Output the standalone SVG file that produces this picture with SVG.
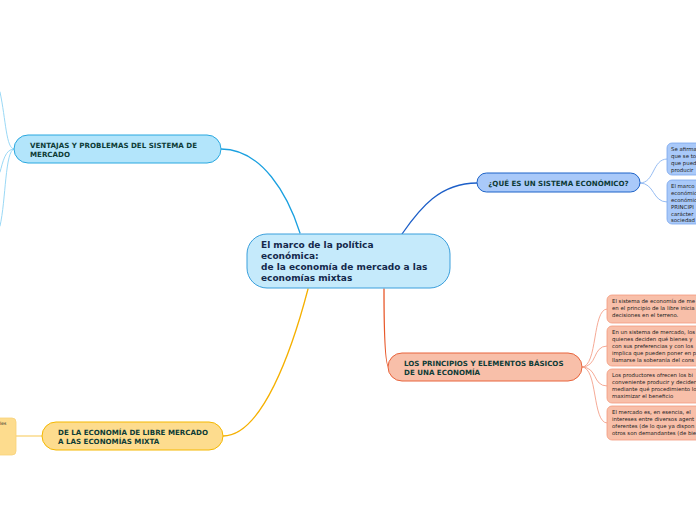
<svg xmlns="http://www.w3.org/2000/svg" width="696" height="520" viewBox="0 0 696 520">
<style>
text{font-family:"DejaVu Sans",Verdana,sans-serif;}
.main{font-size:9px;font-weight:bold;fill:#14284b;}
.lbl{font-size:7.1px;font-weight:bold;fill:#0d3b36;}
.sm{font-size:5.4px;fill:#222;}
.c{fill:none;stroke-linecap:round;}
</style>
<rect width="696" height="520" fill="#ffffff"/>
<g id="connectors">
  <path class="c" d="M300,233 C288,195 262,149 221,149" stroke="#1aa0e0" stroke-width="1.3"/>
  <path class="c" d="M14,149 C6,149 6,120 0,92" stroke="#8fd4f4" stroke-width="0.9"/>
  <path class="c" d="M14,149 C5,149 3,162 0,172" stroke="#8fd4f4" stroke-width="0.9"/>
  <path class="c" d="M14,149 C5,150 6,200 0,226" stroke="#8fd4f4" stroke-width="0.9"/>
  <path class="c" d="M402,234 C420,208 440,183 477,183" stroke="#1d5fc8" stroke-width="1.3"/>
  <path class="c" d="M640,183 C655,183 652,159 667,159" stroke="#8ab4f0" stroke-width="0.9"/>
  <path class="c" d="M640,183 C655,183 652,202 667,202" stroke="#8ab4f0" stroke-width="0.9"/>
  <path class="c" d="M384,289 C384,330 385,367 389,367" stroke="#e8582a" stroke-width="1.3"/>
  <path class="c" d="M582,367 C598,367 592,309 607,309" stroke="#f4a08a" stroke-width="0.9"/>
  <path class="c" d="M582,367 C598,367 592,346 607,346" stroke="#f4a08a" stroke-width="0.9"/>
  <path class="c" d="M582,367 C598,367 592,386 607,386" stroke="#f4a08a" stroke-width="0.9"/>
  <path class="c" d="M582,367 C598,367 592,423 607,423" stroke="#f4a08a" stroke-width="0.9"/>
  <path class="c" d="M308,289 C292,350 262,436 223,436" stroke="#f5b000" stroke-width="1.3"/>
  <path class="c" d="M42,436 L16,436" stroke="#fbe3a8" stroke-width="2"/>
</g>
<g id="central">
  <rect x="247" y="234" width="203" height="54" rx="20" fill="#c5eafb" stroke="#3a9fdc" stroke-width="1"/>
  <text class="main" x="261" y="248">El marco de la política</text>
  <text class="main" x="261" y="259">económica:</text>
  <text class="main" x="261" y="270">de la economía de mercado a las</text>
  <text class="main" x="261" y="281">economías mixtas</text>
</g>
<g id="ventajas">
  <rect x="14" y="135" width="207" height="28" rx="14" fill="#b3e5fb" stroke="#29a8e0" stroke-width="1"/>
  <text class="lbl" x="30" y="148">VENTAJAS Y PROBLEMAS DEL SISTEMA DE</text>
  <text class="lbl" x="30" y="157">MERCADO</text>
</g>
<g id="que-es">
  <rect x="477" y="173" width="163" height="19" rx="9.5" fill="#a9c9f9" stroke="#1d63c8" stroke-width="1"/>
  <text class="lbl" x="558.5" y="185.5" text-anchor="middle">¿QUÉ ES UN SISTEMA ECONÓMICO?</text>
</g>
<g id="que-1">
  <rect x="667" y="143" width="60" height="32" rx="5" fill="#a9c9f9" stroke="#7aa6ec" stroke-width="0.8"/>
  <text class="sm" x="671" y="151">Se afirma</text>
  <text class="sm" x="671" y="158">que se to</text>
  <text class="sm" x="671" y="165">que pued</text>
  <text class="sm" x="671" y="172">producir</text>
</g>
<g id="que-2">
  <rect x="667" y="180" width="60" height="44" rx="5" fill="#a9c9f9" stroke="#7aa6ec" stroke-width="0.8"/>
  <text class="sm" x="671" y="188">El marco</text>
  <text class="sm" x="671" y="195">económic</text>
  <text class="sm" x="671" y="202">económic</text>
  <text class="sm" x="671" y="209">PRINCIPI</text>
  <text class="sm" x="671" y="216">carácter</text>
  <text class="sm" x="671" y="222">sociedad</text>
</g>
<g id="principios">
  <rect x="388" y="353" width="194" height="28" rx="14" fill="#f8bfa9" stroke="#e8643c" stroke-width="1"/>
  <text class="lbl" x="404" y="366">LOS PRINCIPIOS Y ELEMENTOS BÁSICOS</text>
  <text class="lbl" x="404" y="375">DE UNA ECONOMÍA</text>
</g>
<g id="pr-1">
  <rect x="607" y="295" width="120" height="28" rx="5" fill="#f8bfa9" stroke="#f29a7e" stroke-width="0.8"/>
  <text class="sm" x="612" y="303">El sistema de economía de me</text>
  <text class="sm" x="612" y="310">en el principio de la libre inicia</text>
  <text class="sm" x="612" y="317">decisiones en el terreno.</text>
</g>
<g id="pr-2">
  <rect x="607" y="326" width="120" height="40" rx="5" fill="#f8bfa9" stroke="#f29a7e" stroke-width="0.8"/>
  <text class="sm" x="612" y="334">En un sistema de mercado, los</text>
  <text class="sm" x="612" y="341">quienes deciden qué bienes y</text>
  <text class="sm" x="612" y="348">con sus preferencias y con los</text>
  <text class="sm" x="612" y="355">implica que pueden poner en p</text>
  <text class="sm" x="612" y="362">llamarse la soberanía del cons</text>
</g>
<g id="pr-3">
  <rect x="607" y="369" width="120" height="34" rx="5" fill="#f8bfa9" stroke="#f29a7e" stroke-width="0.8"/>
  <text class="sm" x="612" y="377">Los productores ofrecen los bi</text>
  <text class="sm" x="612" y="384">conveniente producir y deciden</text>
  <text class="sm" x="612" y="391">mediante qué procedimiento lo</text>
  <text class="sm" x="612" y="398">maximizar el beneficio</text>
</g>
<g id="pr-4">
  <rect x="607" y="406" width="120" height="34" rx="5" fill="#f8bfa9" stroke="#f29a7e" stroke-width="0.8"/>
  <text class="sm" x="612" y="414">El mercado es, en esencia, el</text>
  <text class="sm" x="612" y="421">intereses entre diversos agent</text>
  <text class="sm" x="612" y="428">oferentes (de lo que ya dispon</text>
  <text class="sm" x="612" y="435">otros son demandantes (de bie</text>
</g>
<g id="libre-mercado">
  <rect x="42" y="422" width="181" height="28" rx="14" fill="#fddc8e" stroke="#f5b800" stroke-width="1"/>
  <text class="lbl" x="58" y="435">DE LA ECONOMÍA DE LIBRE MERCADO</text>
  <text class="lbl" x="58" y="444">A LAS ECONOMÍAS MIXTA</text>
</g>
<g id="libre-1">
  <rect x="-10" y="418" width="26" height="37" rx="4" fill="#fddc8e" stroke="#f8d27a" stroke-width="0.8"/>
  <text class="sm" x="0" y="425" style="font-size:4.5px">les</text>
</g>
</svg>
